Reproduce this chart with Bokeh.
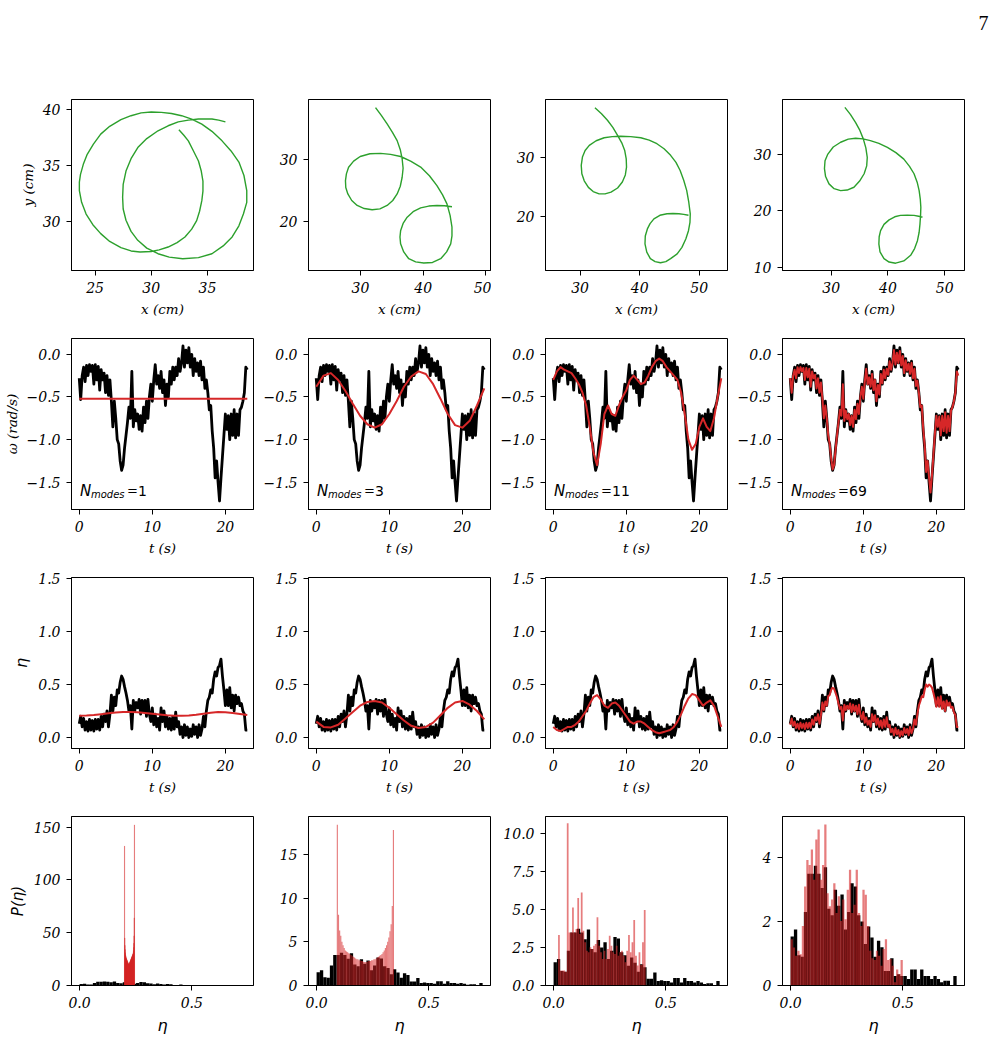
import numpy as np
from bokeh.plotting import figure
from bokeh.layouts import column, row
from bokeh.models import Range1d, FixedTicker, CustomJSTickFormatter
from bokeh.core.properties import value
from bokeh.embed import file_html
from bokeh.resources import INLINE

GREEN = "#2ca02c"
RED = "#d62728"
SERIF = "DejaVu Serif"
SANS = "DejaVu Sans"
PAGE_FONT = "Liberation Serif"

# ---------------------------------------------------------------- data
n_modes = [1, 3, 11, 69]

# reconstructed trajectories (cm)
traj_1 = [
    (32.46, 38.2), (32.9, 37.7), (33.3, 37.2), (33.7, 36.4), (34.2, 35.4), (34.45, 34.5), (34.6, 33.6),
    (34.6, 32.7), (34.5, 31.85), (34.3, 30.9), (34.04, 30.06), (33.6, 29.3), (33.0, 28.6), (32.3, 28.1),
    (31.5, 27.7), (30.7, 27.45), (30.0, 27.3), (29.0, 27.25), (28.2, 27.35), (27.3, 27.65), (26.3, 28.2),
    (25.5, 28.9), (24.8, 29.7), (24.2, 30.65), (23.8, 31.7), (23.6, 32.75), (23.6, 33.5), (23.7, 34.2),
    (23.95, 35.1), (24.3, 36.0), (24.85, 36.9), (25.5, 37.8), (26.3, 38.5), (27.3, 39.1), (28.2, 39.45),
    (29.1, 39.7), (30.0, 39.78), (30.9, 39.75), (31.8, 39.65), (32.7, 39.45), (33.6, 39.15), (34.5, 38.7),
    (35.4, 38.05), (36.3, 37.2), (37.1, 36.3), (37.8, 35.3), (38.25, 34.1), (38.5, 32.75), (38.5, 31.7),
    (38.2, 30.65), (37.8, 29.6), (37.2, 28.6), (36.4, 27.8), (35.4, 27.1), (34.2, 26.75), (32.8, 26.65),
    (31.6, 26.8), (30.6, 27.1), (29.6, 27.6), (28.8, 28.3), (28.2, 29.1), (27.75, 30.1), (27.5, 31.1),
    (27.45, 32.15), (27.5, 33.3), (27.75, 34.5), (28.2, 35.6), (28.8, 36.6), (29.6, 37.4), (30.6, 38.1),
    (31.5, 38.55), (32.4, 38.9), (33.3, 39.05), (34.2, 39.15), (35.4, 39.15), (36.0, 39.05), (36.6, 38.9),
]
traj_3 = [
    (32.4, 38.4), (33.35, 37.1), (34.25, 35.75), (35.1, 34.4), (35.85, 33.06), (36.35, 31.6), (36.65, 30.1),
    (36.8, 28.6), (36.65, 27.15), (36.35, 25.7), (35.85, 24.46), (35.15, 23.4), (34.25, 22.6), (33.1, 22.05),
    (31.86, 21.9), (30.6, 22.1), (29.47, 22.6), (28.6, 23.4), (27.98, 24.46), (27.65, 25.5), (27.6, 26.6),
    (27.75, 27.7), (28.1, 28.76), (28.9, 29.75), (29.95, 30.5), (31.5, 30.95), (33.2, 31.0), (34.8, 30.85),
    (36.4, 30.5), (38.0, 29.75), (39.6, 28.8), (41.0, 27.4), (42.2, 25.8), (43.1, 24.3), (43.8, 22.85),
    (44.3, 21.0), (44.6, 19.1), (44.6, 17.7), (44.4, 16.4), (43.75, 15.1), (42.8, 14.0), (41.5, 13.4),
    (40.1, 13.3), (38.8, 13.5), (37.7, 14.0), (36.9, 15.1), (36.4, 16.4), (36.3, 17.5), (36.4, 18.5),
    (36.8, 19.7), (37.45, 20.7), (38.4, 21.6), (39.6, 22.2), (40.9, 22.5), (42.2, 22.6), (43.4, 22.55),
    (44.6, 22.4),
]
traj_11 = [
    (32.5, 38.3), (33.6, 37.3), (34.6, 36.2), (35.5, 35.0), (36.3, 33.65), (37.0, 32.4), (37.5, 31.1),
    (37.75, 29.7), (37.8, 28.3), (37.6, 27.0), (37.1, 25.8), (36.3, 24.8), (35.2, 24.1), (34.2, 23.8),
    (33.2, 23.8), (32.2, 24.2), (31.4, 24.9), (30.7, 26.0), (30.3, 27.2), (30.2, 28.6), (30.4, 30.0),
    (30.85, 31.1), (31.55, 31.97), (32.7, 32.75), (34.05, 33.26), (35.4, 33.45), (36.8, 33.5), (38.5, 33.45),
    (40.2, 33.26), (41.6, 32.85), (42.9, 32.25), (44.1, 31.4), (45.2, 30.3), (46.1, 29.1), (46.8, 27.75),
    (47.4, 26.1), (47.9, 24.4), (48.25, 22.4), (48.5, 20.45), (48.45, 19.0), (48.2, 17.6), (47.75, 16.2),
    (47.1, 14.8), (46.3, 13.7), (45.2, 12.9), (44.4, 12.4), (43.5, 12.2), (42.6, 12.4), (41.8, 12.9),
    (41.2, 14.0), (40.9, 15.4), (40.95, 16.7), (41.3, 17.9), (41.75, 18.8), (42.4, 19.6), (43.4, 20.2),
    (44.6, 20.45), (45.6, 20.5), (46.6, 20.45), (47.4, 20.35), (48.2, 20.2),
]
traj_69 = [
    (32.4, 38.4), (33.4, 37.1), (34.3, 35.7), (35.05, 34.3), (35.65, 32.8), (36.1, 31.2), (36.35, 29.5),
    (36.25, 28.0), (35.8, 26.6), (35.0, 25.3), (34.0, 24.2), (32.8, 23.7), (31.65, 23.6), (30.5, 23.95),
    (29.6, 24.8), (29.0, 26.1), (28.8, 27.5), (28.9, 28.9), (29.4, 30.1), (30.35, 31.35), (31.65, 32.2),
    (33.0, 32.75), (34.3, 32.9), (35.6, 32.8), (36.9, 32.5), (38.4, 32.0), (39.9, 31.3), (41.4, 30.35),
    (42.8, 29.2), (43.8, 27.9), (44.6, 26.6), (45.15, 25.1), (45.5, 23.6), (45.7, 22.1), (45.8, 20.65),
    (45.75, 19.2), (45.65, 17.7), (45.5, 16.2), (45.2, 14.7), (44.7, 13.3), (44.0, 12.1), (42.8, 11.1),
    (41.35, 10.7), (40.2, 10.9), (39.3, 11.5), (38.6, 12.7), (38.4, 14.1), (38.45, 15.4), (38.7, 16.5),
    (39.3, 17.6), (40.2, 18.4), (41.2, 18.95), (42.2, 19.2), (43.4, 19.25), (44.6, 19.2), (45.4, 19.05),
    (46.1, 18.9),
]
trajectories = [traj_1, traj_3, traj_11, traj_69]

# measured angular velocity (rad/s) and eta, sampled every 0.2 s
omega_measured = [
    -0.28, -0.53, -0.25, -0.15, -0.32, -0.13, -0.25, -0.12, -0.20, -0.13,
    -0.35, -0.12, -0.30, -0.14, -0.42, -0.18, -0.30, -0.22, -0.45, -0.25,
    -0.48, -0.30, -0.55, -0.85, -0.55, -0.75, -1.00, -1.05, -1.25, -1.36,
    -1.30, -1.10, -0.95, -0.80, -0.62, -0.75, -0.20, -0.85, -0.65, -0.78,
    -0.70, -0.88, -0.72, -0.90, -0.62, -0.80, -0.55, -0.75, -0.50, -0.35,
    -0.55, -0.30, -0.12, -0.35, -0.25, -0.40, -0.20, -0.45, -0.30, -0.60,
    -0.35, -0.50, -0.20, -0.35, -0.15, -0.30, -0.15, -0.25, -0.05, -0.20,
    -0.10, 0.10, -0.15, 0.05, -0.10, 0.08, -0.15, 0.00, -0.25, -0.05,
    -0.20, -0.10, -0.25, -0.08, -0.30, -0.15, -0.40, -0.30, -0.45, -0.65,
    -0.60, -0.90, -1.10, -1.45, -1.25, -1.50, -1.72, -1.45, -1.20, -0.95,
    -0.70, -0.88, -0.72, -1.00, -0.70, -0.95, -0.65, -0.98, -0.70, -0.95,
    -0.65, -0.62, -0.55, -0.45, -0.15, -0.18,
]
eta_measured = [
    0.13, 0.20, 0.10, 0.18, 0.07, 0.15, 0.06, 0.17, 0.07, 0.16,
    0.06, 0.17, 0.08, 0.17, 0.07, 0.20, 0.10, 0.22, 0.15, 0.25,
    0.10, 0.22, 0.40, 0.25, 0.38, 0.30, 0.45, 0.42, 0.52, 0.58,
    0.55, 0.48, 0.42, 0.35, 0.25, 0.30, 0.08, 0.35, 0.25, 0.33,
    0.28, 0.36, 0.22, 0.35, 0.25, 0.35, 0.20, 0.36, 0.22, 0.15,
    0.28, 0.12, 0.22, 0.10, 0.18, 0.07, 0.28, 0.15, 0.25, 0.10,
    0.20, 0.08, 0.18, 0.07, 0.20, 0.08, 0.24, 0.10, 0.15, 0.03,
    0.10, 0.00, 0.12, 0.02, 0.10, 0.00, 0.08, 0.01, 0.12, 0.03,
    0.10, 0.00, 0.12, 0.02, 0.08, 0.20, 0.10, 0.25, 0.35, 0.38,
    0.45, 0.42, 0.55, 0.62, 0.58, 0.66, 0.68, 0.74, 0.58, 0.45,
    0.30, 0.45, 0.30, 0.47, 0.28, 0.40, 0.25, 0.40, 0.32, 0.38,
    0.30, 0.32, 0.25, 0.22, 0.07, 0.07,
]
t_measured = [round(0.2 * i, 1) for i in range(len(omega_measured))]

# mode reconstructions
t_fit1 = [0.0, 23.0]
omega_fit1 = [-0.52, -0.52]
t_eta_fit1 = list(range(24))
eta_fit1 = [0.205, 0.207, 0.212, 0.220, 0.228, 0.235, 0.240, 0.240, 0.238, 0.232, 0.225, 0.217,
            0.210, 0.205, 0.205, 0.208, 0.215, 0.225, 0.234, 0.240, 0.238, 0.232, 0.222, 0.212]

t_fit3 = list(range(24))
omega_fit3 = [-0.38, -0.25, -0.22, -0.30, -0.43, -0.58, -0.72, -0.82, -0.86, -0.82, -0.70, -0.55,
              -0.38, -0.26, -0.20, -0.23, -0.35, -0.52, -0.70, -0.83, -0.86, -0.78, -0.60, -0.40]
eta_fit3 = [0.15, 0.10, 0.095, 0.12, 0.18, 0.24, 0.30, 0.335, 0.345, 0.33, 0.28, 0.22,
            0.16, 0.11, 0.09, 0.10, 0.14, 0.21, 0.28, 0.33, 0.345, 0.31, 0.25, 0.17]

t_fit11 = [0.5 * i for i in range(47)]
omega_fit11 = [-0.30, -0.20, -0.15, -0.18, -0.20, -0.22, -0.28, -0.35, -0.45, -0.60,
               -0.85, -1.15, -1.30, -1.05, -0.70, -0.60, -0.70, -0.72, -0.60, -0.50,
               -0.42, -0.30, -0.25, -0.30, -0.35, -0.33, -0.25, -0.15, -0.08, -0.05,
               -0.08, -0.15, -0.20, -0.25, -0.30, -0.45, -0.70, -1.00, -1.12, -1.05,
               -0.85, -0.75, -0.85, -0.90, -0.75, -0.50, -0.28]
eta_fit11 = [0.10, 0.07, 0.06, 0.08, 0.10, 0.10, 0.12, 0.15, 0.20, 0.25,
             0.32, 0.38, 0.40, 0.36, 0.30, 0.28, 0.32, 0.33, 0.30, 0.25,
             0.20, 0.15, 0.13, 0.15, 0.15, 0.13, 0.10, 0.07, 0.05, 0.04,
             0.05, 0.06, 0.07, 0.10, 0.15, 0.22, 0.30, 0.37, 0.41, 0.40,
             0.35, 0.30, 0.33, 0.35, 0.30, 0.20, 0.10]

omega_fit69 = [
    -0.28, -0.45, -0.25, -0.18, -0.28, -0.15, -0.22, -0.15, -0.20, -0.16,
    -0.30, -0.16, -0.27, -0.17, -0.38, -0.20, -0.28, -0.24, -0.40, -0.28,
    -0.45, -0.33, -0.52, -0.75, -0.60, -0.75, -0.95, -1.05, -1.22, -1.35,
    -1.30, -1.12, -0.95, -0.80, -0.65, -0.72, -0.35, -0.78, -0.66, -0.76,
    -0.70, -0.83, -0.72, -0.85, -0.65, -0.76, -0.58, -0.70, -0.50, -0.38,
    -0.52, -0.32, -0.17, -0.35, -0.27, -0.38, -0.23, -0.42, -0.30, -0.55,
    -0.36, -0.47, -0.23, -0.34, -0.18, -0.28, -0.17, -0.24, -0.08, -0.18,
    -0.10, 0.05, -0.12, 0.02, -0.10, 0.04, -0.13, -0.02, -0.22, -0.07,
    -0.19, -0.11, -0.23, -0.10, -0.28, -0.17, -0.37, -0.31, -0.45, -0.62,
    -0.60, -0.87, -1.07, -1.38, -1.25, -1.45, -1.62, -1.42, -1.18, -0.93,
    -0.72, -0.85, -0.73, -0.95, -0.72, -0.90, -0.68, -0.92, -0.72, -0.90,
    -0.66, -0.62, -0.55, -0.45, -0.20, -0.25,
]
eta_fit69 = [
    0.12, 0.18, 0.11, 0.15, 0.09, 0.13, 0.08, 0.14, 0.09, 0.13,
    0.08, 0.14, 0.09, 0.14, 0.09, 0.17, 0.12, 0.19, 0.16, 0.22,
    0.13, 0.21, 0.33, 0.26, 0.34, 0.30, 0.39, 0.40, 0.45, 0.47,
    0.46, 0.42, 0.38, 0.32, 0.27, 0.29, 0.16, 0.31, 0.26, 0.30,
    0.27, 0.32, 0.24, 0.31, 0.25, 0.30, 0.22, 0.31, 0.22, 0.17,
    0.24, 0.14, 0.19, 0.12, 0.16, 0.10, 0.22, 0.15, 0.21, 0.12,
    0.18, 0.10, 0.16, 0.09, 0.17, 0.10, 0.19, 0.10, 0.12, 0.05,
    0.08, 0.02, 0.09, 0.03, 0.07, 0.01, 0.06, 0.02, 0.09, 0.04,
    0.08, 0.02, 0.10, 0.04, 0.08, 0.17, 0.12, 0.22, 0.30, 0.34,
    0.39, 0.38, 0.45, 0.50, 0.48, 0.50, 0.49, 0.47, 0.42, 0.36,
    0.29, 0.38, 0.29, 0.39, 0.27, 0.34, 0.25, 0.35, 0.30, 0.33,
    0.28, 0.29, 0.24, 0.21, 0.10, 0.10,
]

omega_fits = [(t_fit1, omega_fit1), (t_fit3, omega_fit3), (t_fit11, omega_fit11), (t_measured, omega_fit69)]
eta_fits = [(t_eta_fit1, eta_fit1), (t_fit3, eta_fit3), (t_fit11, eta_fit11), (t_measured, eta_fit69)]

# probability densities of eta (50 bins each)
hist_measured_range = (0.0, 0.74)
hist_measured = [1.53, 1.75, 0.95, 0.9, 2.3, 3.5, 3.5, 3.75, 3.5, 3.05,
                 3.7, 2.4, 2.2, 3.0, 2.5, 2.85, 1.75, 2.3, 3.2, 3.1,
                 2.2, 2.0, 1.3, 1.85, 1.5, 0.9, 1.4, 1.2, 0.45, 0.45,
                 0.85, 0.3, 0.35, 0.3, 0.3, 0.2, 0.5, 0.5, 0.2, 0.5,
                 0.3, 0.3, 0.2, 0.3, 0.2, 0.1, 0.15, 0.15, 0.0, 0.3]
hist_fit_ranges = [(0.2, 0.245), (0.09, 0.345), (0.02, 0.41), (0.0, 0.5)]
hist_fits = [
    [132, 45, 38, 34, 31, 29, 28, 27, 26, 25.5, 25, 24.5, 24, 23.5, 23, 22.5, 22, 21.5, 21, 20.5,
     20, 20, 20, 20.5, 21, 21.5, 22, 22.5, 23, 23.5, 24, 24.5, 25, 25.5, 26, 26.5, 27, 27.5, 28, 28.5,
     29, 29.5, 30, 31, 33, 36, 40, 47, 64, 152],
    [18.4, 8.1, 6.3, 5.7, 5.0, 4.6, 4.3, 4.0, 3.9, 3.8, 3.7, 3.6, 3.5, 3.4, 3.3, 3.2, 3.1, 3.0, 3.0, 2.9,
     2.9, 2.8, 2.8, 2.7, 2.7, 2.7, 2.7, 2.8, 2.8, 2.8, 2.9, 2.9, 3.0, 3.0, 3.1, 3.2, 3.3, 3.4, 3.5, 3.6,
     3.8, 4.0, 4.3, 4.6, 5.0, 5.5, 6.2, 7.0, 9.1, 17.8],
    [3.33, 0.99, 0.99, 0.99, 0.9, 10.7, 3.5, 3.5, 5.15, 3.5, 3.73, 5.77, 3.4, 6.14, 3.62, 2.85, 2.3,
     2.19, 2.52, 2.41, 2.63, 2.74, 4.5, 2.63, 2.19, 1.75, 2.3, 1.75, 2.41, 3.29, 2.63, 2.19, 2.08, 2.63,
     1.97, 2.19, 2.3, 1.97, 1.54, 2.3, 3.33, 2.19, 2.85, 4.32, 1.97, 1.32, 2.19, 1.36, 2.85, 4.98],
    [1.45, 1.19, 0.93, 1.09, 0.98, 1.86, 3.1, 3.93, 3.77, 4.26, 3.31, 4.57, 4.88, 3.31, 3.77, 5.04,
     2.89, 2.48, 2.69, 3.2, 2.27, 2.79, 2.02, 2.69, 2.07, 3.0, 3.62, 2.27, 2.53, 3.62, 2.27, 1.86, 3.0,
     2.84, 1.86, 1.09, 0.85, 0.8, 1.09, 0.93, 0.62, 1.14, 1.45, 0.8, 0.83, 0.62, 0.1, 0.5, 0.36, 0.8],
]

# axis setup per panel
traj_xranges = [(22.9, 39.1), (21.7, 50.75), (24.2, 54.75), (21.4, 53.5)]
traj_yranges = [(25.6, 40.9), (12.1, 39.7), (10.9, 39.7), (9.4, 39.8)]
traj_xticks = [[25, 30, 35], [30, 40, 50], [30, 40, 50], [30, 40, 50]]
traj_yticks = [[30, 35, 40], [20, 30], [20, 30], [10, 20, 30]]
hist_ymax = [160, 19.34, 11.15, 5.29]
hist_yticks = [[0, 50, 100, 150], [0, 5, 10, 15], [0, 2.5, 5, 7.5, 10], [0, 2, 4]]
hist_ydigits = [0, 0, 1, 0]

# ---------------------------------------------------------------- layout helpers
FRAME_W, FRAME_H = 182, 171
TICK_FONT = "14px"
LABEL_FONT = "13.5px"


def fmt(digits):
    return CustomJSTickFormatter(code="return tick.toFixed(%d).replace('-', '\u2212');" % digits)


def panel(ci, ri, xr, yr, xticks, yticks, xdig, ydig, xlabel, ylabel=None,
          xlab_font=SERIF, ylab_font=SERIF, xlab_size=LABEL_FONT, ylab_size=LABEL_FONT):
    left = 71 if ci == 0 else 54
    top = 16
    bottom = 50 if ri == 3 else 52
    p = figure(width=left + FRAME_W + 1, height=top + FRAME_H + bottom,
               x_range=Range1d(*xr), y_range=Range1d(*yr),
               output_backend="svg", toolbar_location=None,
               min_border_left=left, min_border_right=1, min_border_top=top, min_border_bottom=bottom)
    p.xgrid.visible = False
    p.ygrid.visible = False
    p.outline_line_color = "black"
    p.outline_line_width = 1
    p.outline_line_alpha = 1
    p.background_fill_color = "white"
    p.border_fill_color = "white"
    p.xaxis.ticker = FixedTicker(ticks=xticks)
    p.yaxis.ticker = FixedTicker(ticks=yticks)
    p.xaxis.formatter = fmt(xdig)
    p.yaxis.formatter = fmt(ydig)
    for ax in (p.xaxis, p.yaxis):
        ax.axis_line_color = "black"
        ax.major_tick_out = 5
        ax.major_tick_in = 0
        ax.minor_tick_out = 0
        ax.minor_tick_in = 0
        ax.major_tick_line_color = "black"
        ax.major_label_text_font = SERIF
        ax.major_label_text_font_style = "italic"
        ax.major_label_text_font_size = TICK_FONT
        ax.major_label_text_color = "black"
        ax.axis_label_text_color = "black"
        ax.axis_label_text_font_style = "italic"
    p.xaxis.major_label_standoff = 6
    p.yaxis.major_label_standoff = 6
    p.xaxis.axis_label = xlabel
    p.xaxis.axis_label_text_font = xlab_font
    p.xaxis.axis_label_text_font_size = xlab_size
    p.xaxis.axis_label_standoff = 5
    if ylabel:
        p.yaxis.axis_label = ylabel
        p.yaxis.axis_label_text_font = ylab_font
        p.yaxis.axis_label_text_font_size = ylab_size
        p.yaxis.axis_label_standoff = 4
    return p


T_RANGE = (-1.06, 23.85)
rows = []

# row 1: trajectories
r = []
for c in range(4):
    p = panel(c, 0, traj_xranges[c], traj_yranges[c], traj_xticks[c], traj_yticks[c], 0, 0,
              "x (cm)", "y (cm)" if c == 0 else None)
    xs = [pt[0] for pt in trajectories[c]]
    ys = [pt[1] for pt in trajectories[c]]
    p.line(xs, ys, line_color=GREEN, line_width=1.4, line_join="round")
    r.append(p)
rows.append(r)

# row 2: angular velocity
r = []
for c in range(4):
    p = panel(c, 1, T_RANGE, (-1.82, 0.186), [0, 10, 20], [-1.5, -1.0, -0.5, 0.0], 0, 1,
              "t (s)", "ω (rad/s)" if c == 0 else None)
    p.line(t_measured, omega_measured, line_color="black", line_width=2.8, line_join="round")
    tf, wf = omega_fits[c]
    p.line(tf, wf, line_color=RED, line_width=2, line_join="round")
    common = dict(text_font=value(SANS), text_baseline="alphabetic", text_color="black")
    p.text(x=[0.1], y=[-1.6], text=["N"], text_font_style="italic", text_font_size="15px", **common)
    p.text(x=[0.1], y=[-1.6], text=["modes"], x_offset=11, y_offset=4, text_font_style="italic",
           text_font_size="10px", **common)
    p.text(x=[0.1], y=[-1.6], text=["="], x_offset=47, text_font_size="13px", **common)
    p.text(x=[0.1], y=[-1.6], text=[str(n_modes[c])], x_offset=58, text_font_size="14px", **common)
    r.append(p)
rows.append(r)

# row 3: eta
r = []
for c in range(4):
    p = panel(c, 2, T_RANGE, (-0.104, 1.51), [0, 10, 20], [0.0, 0.5, 1.0, 1.5], 0, 1,
              "t (s)", "η" if c == 0 else None, ylab_font=SANS, ylab_size="16px")
    p.line(t_measured, eta_measured, line_color="black", line_width=2.8, line_join="round")
    tf, ef = eta_fits[c]
    p.line(tf, ef, line_color=RED, line_width=2, line_join="round")
    r.append(p)
rows.append(r)

# row 4: histograms
r = []
edges_m = np.linspace(hist_measured_range[0], hist_measured_range[1], len(hist_measured) + 1)
for c in range(4):
    p = panel(c, 3, (-0.036, 0.775), (0, hist_ymax[c]), [0.0, 0.5], hist_yticks[c], 1, hist_ydigits[c],
              "η", "P(η)" if c == 0 else None, xlab_font=SANS, ylab_font=SANS,
              xlab_size="16px", ylab_size="15px")
    p.quad(left=edges_m[:-1], right=edges_m[1:], bottom=0, top=hist_measured,
           fill_color="black", line_color=None)
    lo, hi = hist_fit_ranges[c]
    e = np.linspace(lo, hi, len(hist_fits[c]) + 1)
    if c == 0:
        # sub-pixel bins: a thin outline keeps the packed bars opaque
        p.quad(left=e[:-1], right=e[1:], bottom=0, top=hist_fits[c],
               fill_color=RED, fill_alpha=0.6, line_color=RED, line_alpha=0.45, line_width=0.8)
    else:
        p.quad(left=e[:-1], right=e[1:], bottom=0, top=hist_fits[c],
               fill_color=RED, fill_alpha=0.6, line_color=None)
    r.append(p)
rows.append(r)

# page header with page number
header = figure(width=994, height=83, x_range=Range1d(0, 994), y_range=Range1d(0, 83),
                x_axis_type=None, y_axis_type=None, output_backend="svg", toolbar_location=None,
                min_border=0, outline_line_color=None)
header.xgrid.visible = False
header.ygrid.visible = False
header.text(x=[983], y=[61], text=["7"], text_font=value(PAGE_FONT), text_font_size="20px",
            text_align="center", text_baseline="alphabetic", text_color="black")

layout = column(header, *[row(*rr) for rr in rows])

with open("out.html", "w") as f:
    f.write(file_html(layout, INLINE))
